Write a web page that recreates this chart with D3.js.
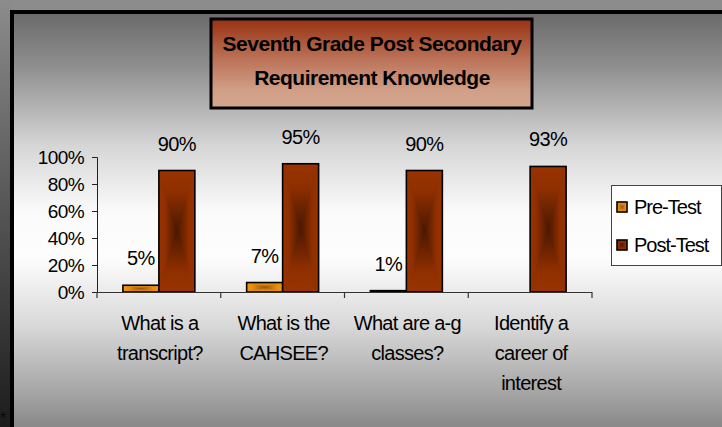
<!DOCTYPE html>
<html>
<head>
<meta charset="utf-8">
<script src="https://cdn.jsdelivr.net/npm/d3@7"></script>
<style>
  html, body { margin: 0; padding: 0; background: #8c8c8c; }
  svg { display: block; }
  text { font-family: "Liberation Sans", Arial, sans-serif; fill: #000; }
</style>
</head>
<body>
<svg id="chart" width="722" height="427"></svg>
<script>
// ---- data ----
const categories = ["What is a\ntranscript?", "What is the\nCAHSEE?", "What are a-g\nclasses?", "Identify a\ncareer of\ninterest"];
const seriesNames = ["Pre-Test", "Post-Test"];
const preTest = [0.05, 0.07, 0.01, null];
const postTest = [0.90, 0.95, 0.90, 0.93];
const yTicks = [0, 0.2, 0.4, 0.6, 0.8, 1.0];
const titleLines = ["Seventh Grade Post Secondary", "Requirement Knowledge"];

const seriesValues = [preTest, postTest];
const colors = {
  "Pre-Test": { edge: "#f7960c", mid: "#e88a0c", center: "#93581a" },
  "Post-Test": { edge: "#993300", mid: "#8f2f00", center: "#4a1800" }
};

const W = 722, H = 427;
const svg = d3.select("#chart");
const defs = svg.append("defs");

// background gradients
const outerG = defs.append("linearGradient").attr("id", "outerGrad").attr("x1", 0).attr("y1", 0).attr("x2", 0).attr("y2", 1);
outerG.append("stop").attr("offset", 0).attr("stop-color", "#8c8c8c");
outerG.append("stop").attr("offset", 0.45).attr("stop-color", "#5a5a5a");
outerG.append("stop").attr("offset", 1).attr("stop-color", "#1c1c1c");

const plotG = defs.append("linearGradient").attr("id", "plotGrad").attr("x1", 0).attr("y1", 0).attr("x2", 0).attr("y2", 1);
[[0, "#6a6a6a"], [0.12, "#8e8e8e"], [0.3, "#d6d6d6"], [0.45, "#fbfbfb"], [0.55, "#fdfdfd"], [0.7, "#d9d9d9"], [0.86, "#a2a2a2"], [1, "#6c6c6c"]]
  .forEach(([o, c]) => plotG.append("stop").attr("offset", o).attr("stop-color", c));

const titleG = defs.append("linearGradient").attr("id", "titleGrad").attr("x1", 0).attr("y1", 0).attr("x2", 0).attr("y2", 1);
[[0, "#983212"], [0.45, "#bb7258"], [0.8, "#d19f87"], [1, "#d4a68e"]]
  .forEach(([o, c]) => titleG.append("stop").attr("offset", o).attr("stop-color", c));

// rectangular "from center" gradients: horizontal base + top/bottom triangles
function makeGrad(id, dir, col) {
  const g = defs.append("linearGradient").attr("id", id);
  if (dir === "v") g.attr("x1", 0).attr("y1", 0).attr("x2", 0).attr("y2", 1);
  else g.attr("x1", 0).attr("y1", 0).attr("x2", 1).attr("y2", 0);
  [[0, col.edge], [0.175, col.mid], [0.5, col.center], [0.825, col.mid], [1, col.edge]]
    .forEach(([o, c]) => g.append("stop").attr("offset", o).attr("stop-color", c));
}
seriesNames.forEach((s, i) => {
  const c = colors[s];
  makeGrad("g" + i + "v", "v", c);
  makeGrad("g" + i + "h", "h", c);
});

function drawGradRect(g, x0, y0, w, h, si) {
  const cx = x0 + w / 2, cy = y0 + h / 2, x1 = x0 + w, y1 = y0 + h;
  g.append("rect").attr("x", x0).attr("y", y0).attr("width", w).attr("height", h)
    .attr("fill", `url(#g${si}h)`);
  // top+bottom triangles share the vertical gradient across the whole bar height
  g.append("path")
    .attr("d", `M${x0},${y0}L${x1},${y0}L${cx},${cy}L${x1},${y1}L${x0},${y1}L${cx},${cy}Z`)
    .attr("fill", `url(#g${si}v)`);
  g.append("rect").attr("x", x0).attr("y", y0).attr("width", w).attr("height", h)
    .attr("fill", "none").attr("stroke", "#000").attr("stroke-width", 1.6);
}

// outer background
svg.append("rect").attr("x", 0).attr("y", 0).attr("width", W).attr("height", H).attr("fill", "#8c8c8c");
svg.append("rect").attr("x", 0).attr("y", 0).attr("width", 12).attr("height", H).attr("fill", "url(#outerGrad)");
// plot area
svg.append("rect").attr("x", 12).attr("y", 12).attr("width", W + 20).attr("height", H + 20)
  .attr("fill", "url(#plotGrad)").attr("stroke", "#000").attr("stroke-width", 4);

svg.append("text").attr("x", 0).attr("y", 424).style("font-size", "16px").style("fill", "#0a0a0a").text("*");

// title box
svg.append("rect").attr("x", 211).attr("y", 19).attr("width", 321).attr("height", 89)
  .attr("fill", "url(#titleGrad)").attr("stroke", "#000").attr("stroke-width", 3);
svg.append("g").selectAll("text").data(titleLines).join("text")
  .attr("x", 372).attr("y", (d, i) => 51 + i * 34)
  .attr("text-anchor", "middle")
  .style("font-size", "21px").style("font-weight", "bold").style("letter-spacing", "-0.5px")
  .text(d => d);

// scales
const x = d3.scaleBand().domain(categories).range([97, 592]).paddingInner(0).paddingOuter(0);
const x1 = d3.scaleBand().domain(seriesNames).range([0, x.bandwidth()]).paddingInner(0).paddingOuter(0.72);
const y = d3.scaleLinear().domain([0, 1]).range([292, 157]);

// y axis
const yAxis = svg.append("g").attr("transform", "translate(97,0)")
  .call(d3.axisLeft(y).tickValues(yTicks).tickFormat(d3.format(".0%")).tickSize(5).tickPadding(8));
yAxis.select(".domain").attr("stroke", "#222");
yAxis.selectAll(".tick line").attr("stroke", "#222");
yAxis.selectAll("text").attr("fill", "#000").style("font-size", "19px").style("letter-spacing", "-0.6px")
  .style("font-family", "'Liberation Sans', Arial, sans-serif").attr("dy", "0.36em");

// bars
const barsG = svg.append("g");
categories.forEach((c, ci) => {
  seriesNames.forEach((s, si) => {
    const v = seriesValues[si][ci];
    if (v == null) return;
    const bx = x(c) + x1(s), bw = x1.bandwidth();
    const by = y(v), bh = y(0) - y(v);
    drawGradRect(barsG, bx, by, bw, bh, si);
    barsG.append("text")
      .attr("x", bx + bw / 2).attr("y", by - 20)
      .attr("text-anchor", "middle")
      .style("font-size", "20px").style("letter-spacing", "-0.6px")
      .text(d3.format(".0%")(v));
  });
});

// x axis
const xAxisG = svg.append("g");
xAxisG.append("line").attr("x1", 97).attr("x2", 592).attr("y1", 292.5).attr("y2", 292.5).attr("stroke", "#333").attr("stroke-width", 1.2);
const bounds = categories.map(c => x(c)).concat([x.range()[1]]);
xAxisG.selectAll("line.tk").data(bounds).join("line").attr("class", "tk")
  .attr("x1", d => d).attr("x2", d => d).attr("y1", 292).attr("y2", 298)
  .attr("stroke", "#333").attr("stroke-width", 1.2);
const catLabels = xAxisG.selectAll("text.cat").data(categories).join("text").attr("class", "cat")
  .attr("text-anchor", "middle")
  .style("font-size", "20px").style("letter-spacing", "-0.7px");
catLabels.each(function (d) {
  const t = d3.select(this);
  d.split("\n").forEach((line, li) => {
    t.append("tspan").attr("x", x(d) + x.bandwidth() / 2 + 1).attr("y", 330 + li * 30).text(line);
  });
});

// legend
const lg = svg.append("g");
lg.append("rect").attr("x", 611.5).attr("y", 185.5).attr("width", 110).attr("height", 80)
  .attr("fill", "#fff").attr("stroke", "#444").attr("stroke-width", 1);
seriesNames.forEach((s, i) => {
  const ly = 207 + i * 38;
  drawGradRect(lg, 617, ly - 5, 10, 10, i);
  lg.append("text").attr("x", 634).attr("y", ly + 7)
    .style("font-size", "20px").style("letter-spacing", "-1px").text(s);
});
</script>
</body>
</html>
